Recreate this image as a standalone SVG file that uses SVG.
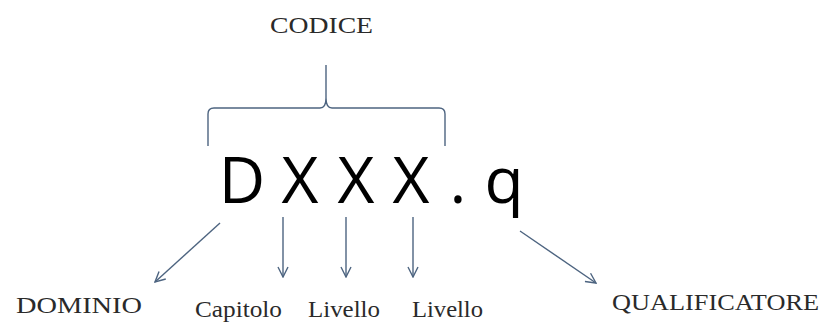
<svg xmlns="http://www.w3.org/2000/svg" width="824" height="323" viewBox="0 0 824 323">
<style>
.lbl{font-family:"Liberation Serif","Times New Roman",serif;fill:#2a2a2a;font-size:24px}
.big{font-family:"Open Sans","DejaVu Sans",sans-serif;fill:#000;font-size:64px;text-anchor:middle}
.ln{fill:none;stroke:#4d6480;stroke-width:1.4}
</style>
<defs>
<marker id="ah" viewBox="0 0 12 12" refX="11" refY="6" markerWidth="12" markerHeight="12" markerUnits="userSpaceOnUse" orient="auto">
<path d="M1,1 L11,6 L1,11" fill="none" stroke="#4d6480" stroke-width="1.4"/>
</marker>
</defs>
<rect width="824" height="323" fill="#fff"/>
<g id="codice"><text class="lbl" x="270" y="33" textLength="103" lengthAdjust="spacingAndGlyphs">CODICE</text></g>
<g id="brace"><path class="ln" d="M208,146 V114 Q208,108 214,108 H320 Q326,108 326,98 V65 M326,98 Q326,108 332,108 H439 Q445,108 445,114 V146"/></g>
<g id="code">
<text class="big" x="242" y="203">D</text>
<text class="big" x="300" y="203">X</text>
<text class="big" x="356" y="203">X</text>
<text class="big" x="411" y="203">X</text>
<text class="big" x="458" y="203">.</text>
<text class="big" x="504" y="203">q</text>
</g>
<g id="connectors">
<line class="ln" x1="220" y1="223" x2="155" y2="282" marker-end="url(#ah)"/>
<line class="ln" x1="283" y1="217" x2="283" y2="277" marker-end="url(#ah)"/>
<line class="ln" x1="346" y1="217" x2="346" y2="277" marker-end="url(#ah)"/>
<line class="ln" x1="413" y1="217" x2="413" y2="277" marker-end="url(#ah)"/>
<line class="ln" x1="520" y1="231" x2="596" y2="283" marker-end="url(#ah)"/>
</g>
<g id="dominio"><text class="lbl" x="16" y="313" textLength="126" lengthAdjust="spacingAndGlyphs">DOMINIO</text></g>
<g id="capitolo"><text class="lbl" x="195" y="317" textLength="87" lengthAdjust="spacingAndGlyphs">Capitolo</text></g>
<g id="livello1"><text class="lbl" x="308" y="317" textLength="72" lengthAdjust="spacingAndGlyphs">Livello</text></g>
<g id="livello2"><text class="lbl" x="412" y="317" textLength="71" lengthAdjust="spacingAndGlyphs">Livello</text></g>
<g id="qualificatore"><text class="lbl" x="612" y="310" textLength="207" lengthAdjust="spacingAndGlyphs">QUALIFICATORE</text></g>
</svg>
